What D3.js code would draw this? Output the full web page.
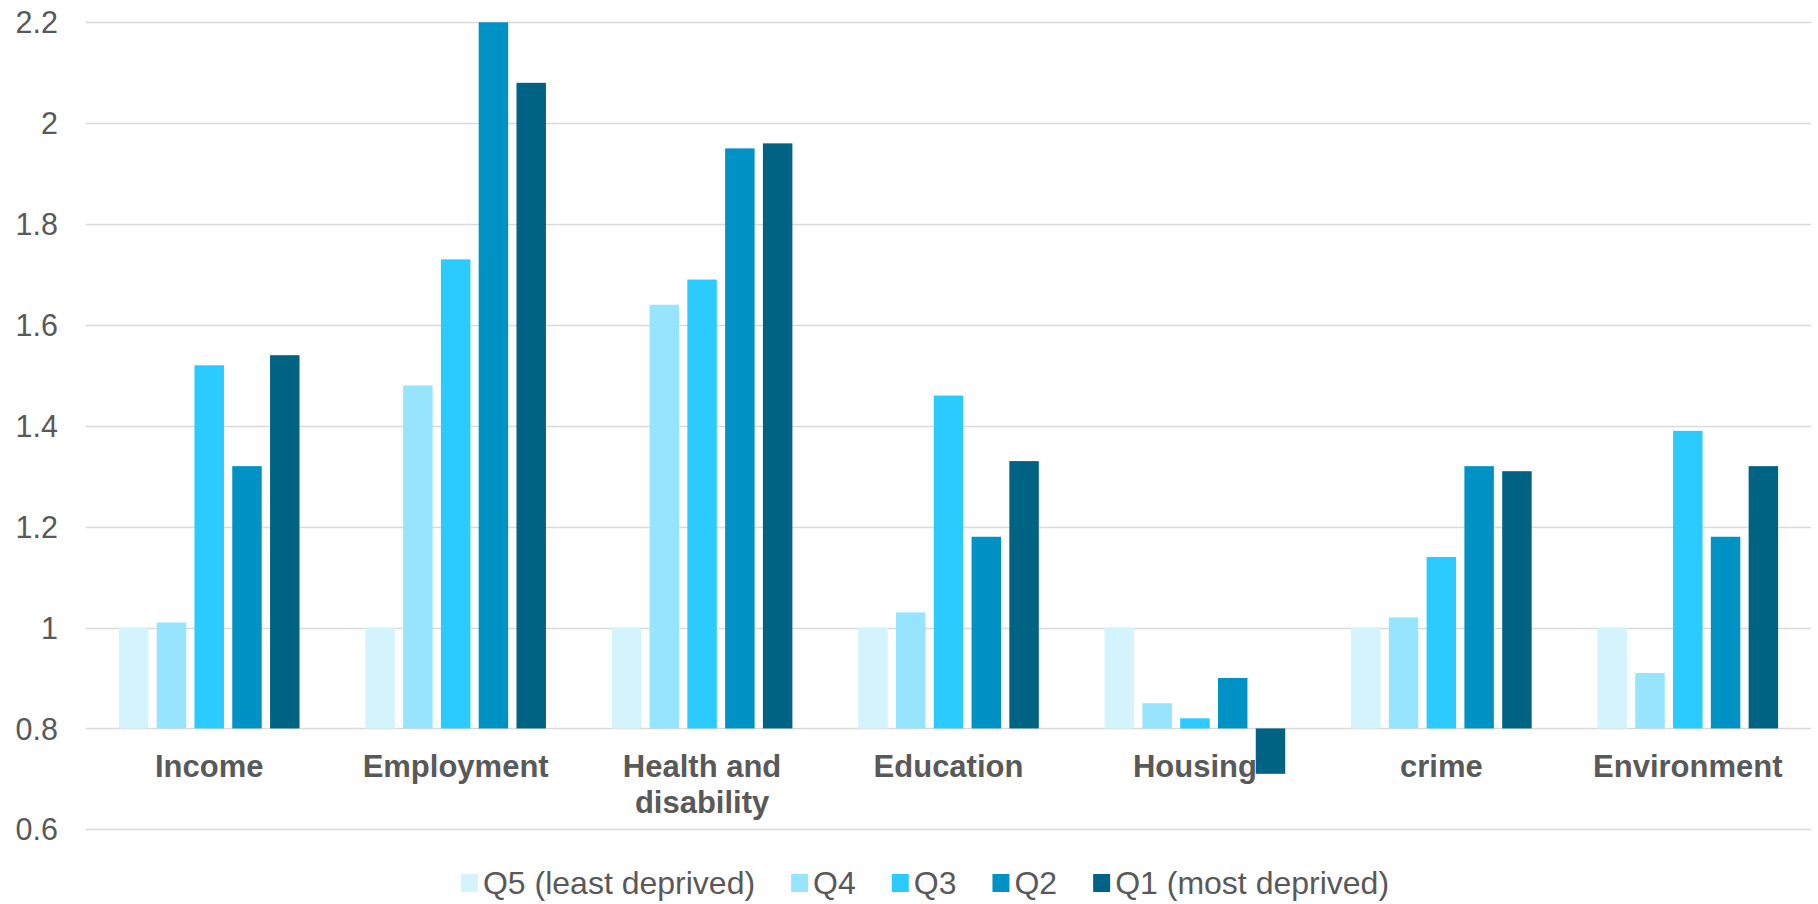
<!DOCTYPE html>
<html>
<head>
<meta charset="utf-8">
<script src="https://cdn.jsdelivr.net/npm/d3@7"></script>
<style>
  html, body { margin: 0; padding: 0; background: #fff; }
  svg { display: block; }
  text { font-family: "Liberation Sans", Arial, sans-serif; }
</style>
</head>
<body>
<svg id="chart" width="1818" height="904"></svg>
<script>
const categories = ["Income", "Employment", "Health and disability", "Education", "Housing", "crime", "Environment"];
const seriesNames = ["Q5 (least deprived)", "Q4", "Q3", "Q2", "Q1 (most deprived)"];
const q5 = [1.00, 1.00, 1.00, 1.00, 1.00, 1.00, 1.00];
const q4 = [1.01, 1.48, 1.64, 1.03, 0.85, 1.02, 0.91];
const q3 = [1.52, 1.73, 1.69, 1.46, 0.82, 1.14, 1.39];
const q2 = [1.32, 2.20, 1.95, 1.18, 0.90, 1.32, 1.18];
const q1 = [1.54, 2.08, 1.96, 1.33, 0.71, 1.31, 1.32];
const yTicks = [0.6, 0.8, 1.0, 1.2, 1.4, 1.6, 1.8, 2.0, 2.2];
const colors = ["#d4f4fd", "#96e4fe", "#2bcbff", "#0192c5", "#006384"];
const baseValue = 0.8;

(function () {
const seriesValues = [q5, q4, q3, q2, q1];

const svg = d3.select("#chart");
const plotLeft = 86, plotRight = 1811, plotTop = 22.3, plotBottom = 829.3;

const y = d3.scaleLinear().domain([0.6, 2.2]).range([plotBottom, plotTop]);
const x0 = d3.scaleBand().domain(categories).range([plotLeft, plotRight]).paddingInner(0).paddingOuter(0);
const bw = x0.bandwidth();
const margin = 32.9;
const x1 = d3.scaleBand().domain(d3.range(seriesNames.length)).range([margin, bw - margin]).paddingInner(0.22).paddingOuter(0);

// gridlines
svg.append("g").selectAll("line").data(yTicks).join("line")
  .attr("x1", plotLeft).attr("x2", plotRight)
  .attr("y1", d => Math.round(y(d)) + 0.5).attr("y2", d => Math.round(y(d)) + 0.5)
  .attr("stroke", "#d9d9d9").attr("stroke-width", 1.5);

// y axis labels
const yAxis = d3.axisLeft(y).tickValues(yTicks).tickSize(0).tickPadding(0).tickFormat(d => d3.format("~g")(d));
const ya = svg.append("g").attr("transform", `translate(58,0)`).call(yAxis);
ya.select(".domain").remove();
ya.selectAll("text")
  .attr("font-family", "Liberation Sans, Arial, sans-serif")
  .attr("font-size", 30.5).attr("fill", "#595959")
  .attr("dy", "0.35em").attr("x", 0);

// category labels
const catG = svg.append("g");
categories.forEach(c => {
  const cxp = x0(c) + bw / 2;
  const t = catG.append("text")
    .attr("x", cxp).attr("y", 777)
    .attr("text-anchor", "middle")
    .attr("font-family", "Liberation Sans, Arial, sans-serif")
    .attr("font-size", 31).attr("font-weight", "bold").attr("fill", "#595959");
  const words = c.split(" ");
  let line = [];
  let tspan = t.append("tspan").attr("x", cxp).attr("dy", 0);
  words.forEach(w => {
    line.push(w);
    tspan.text(line.join(" "));
    if (tspan.node().getComputedTextLength() > bw - 10 && line.length > 1) {
      line.pop();
      tspan.text(line.join(" "));
      line = [w];
      tspan = t.append("tspan").attr("x", cxp).attr("dy", 36).text(w);
    }
  });
});

// bars
const barData = [];
categories.forEach((c, ci) => {
  seriesValues.forEach((arr, si) => barData.push({ c, si, v: arr[ci] }));
});
svg.append("g").selectAll("rect").data(barData).join("rect")
  .attr("x", d => x0(d.c) + x1(d.si))
  .attr("width", x1.bandwidth())
  .attr("y", d => Math.min(y(d.v), y(baseValue)))
  .attr("height", d => Math.abs(y(d.v) - y(baseValue)))
  .attr("fill", d => colors[d.si]);

// legend
const lg = svg.append("g");
let cx = 0;
const itemGap = 36;
seriesNames.forEach((n, i) => {
  const g = lg.append("g");
  g.append("rect").attr("x", cx).attr("y", 874).attr("width", 17).attr("height", 18).attr("fill", colors[i]);
  const t = g.append("text").attr("x", cx + 22).attr("y", 894)
    .attr("font-family", "Liberation Sans, Arial, sans-serif")
    .attr("font-size", 32).attr("fill", "#595959").text(n);
  cx += 22 + t.node().getComputedTextLength() + itemGap;
});
const totalW = cx - itemGap;
lg.attr("transform", `translate(${925 - totalW / 2},0)`);
})();
</script>
</body>
</html>
